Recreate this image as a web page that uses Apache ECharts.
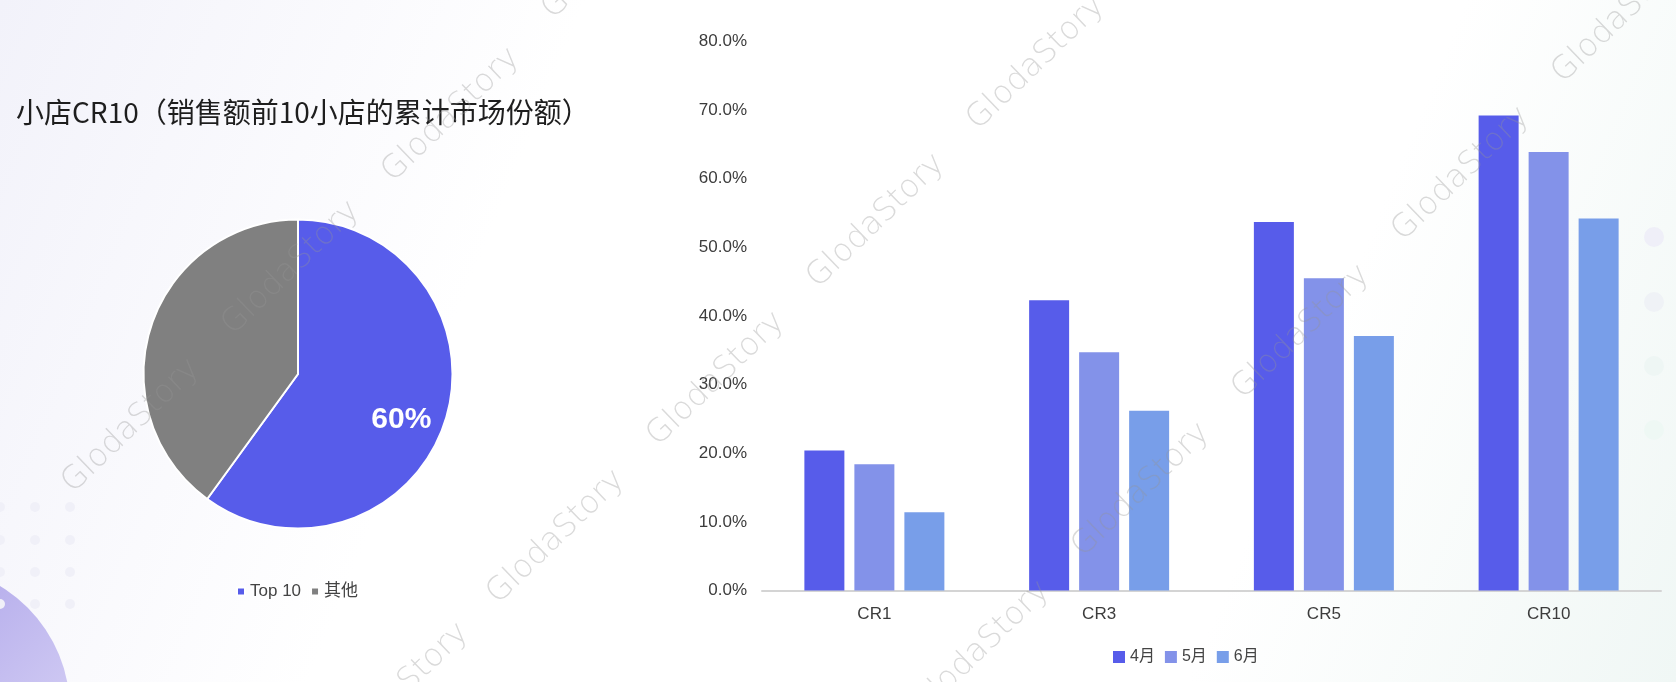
<!DOCTYPE html>
<html><head><meta charset="utf-8">
<script src="https://cdn.jsdelivr.net/npm/echarts@6/dist/echarts.min.js"></script>
<style>html,body{margin:0;padding:0;background:#fff;} #c{width:1676px;height:682px;}</style>
</head><body><div id="c"></div>
<script>
// ---- data ----
const title = '小店CR10（销售额前10小店的累计市场份额）';
const categories = ['CR1', 'CR3', 'CR5', 'CR10'];
const months = ['4月', '5月', '6月'];
const apr = [20.4, 42.3, 53.7, 69.2];
const may = [18.4, 34.7, 45.5, 63.9];
const jun = [11.4, 26.2, 37.1, 54.2];
const pieNames = ['Top 10', '其他'];
const pieValues = [60, 40];
const yMin = 0, yMax = 80, yStep = 10;
const watermarkText = 'GlodaStory';

// ---- style ----
const barColors = ['#575CEA', '#8392E9', '#789EE9'];
const pieColors = ['#575CEA', '#808080'];
const FONT = '"Liberation Sans", Arial, "Noto Sans CJK SC", sans-serif';

const chart = echarts.init(document.getElementById('c'), null, {renderer: 'canvas'});

// decorations
const deco = [];
deco.push({type: 'circle', z: 0, shape: {cx: -75, cy: 710, r: 145},
  style: {fill: new echarts.graphic.LinearGradient(0, 0, 1, 1, [
    {offset: 0, color: '#9d92e5'}, {offset: 1, color: '#e2def8'}])}});
[0, 35, 70].forEach(x => [507, 540, 572, 604].forEach(y => {
  deco.push({type: 'circle', z: 0, shape: {cx: x, cy: y, r: 5}, style: {fill: '#f0f0f8'}});
}));
[['#efeff8', 237], ['#eff2f6', 302], ['#eef6f4', 366], ['#eef8f4', 430]].forEach(([c, y]) => {
  deco.push({type: 'circle', z: 0, shape: {cx: 1654, cy: y, r: 10}, style: {fill: c}});
});
const wmPos = [
  [611, -48], [451, 115], [291, 268], [131, 426],
  [1036, 63], [876, 221], [716, 379], [556, 537], [400, 690],
  [1621, 16], [1461, 174], [1301, 332], [1141, 490], [981, 648]
];
wmPos.forEach(([x, y]) => {
  deco.push({type: 'text', z: 100, x: x, y: y, rotation: 44 * Math.PI / 180, silent: true,
    style: {text: watermarkText, fill: 'rgba(150,150,150,0.35)', font: '300 32px "DejaVu Sans", sans-serif',
      align: 'center', verticalAlign: 'middle'}});
});

const option = {
  backgroundColor: new echarts.graphic.LinearGradient(0, 0, 1, 1, [
    {offset: 0, color: '#f2f2fa'}, {offset: 0.3, color: '#ffffff'},
    {offset: 0.75, color: '#ffffff'}, {offset: 1, color: '#f0f7f5'}]),
  animation: false,
  title: {
    text: title, left: 11, top: 91,
    textStyle: {fontSize: 28, fontWeight: 'normal', color: '#1e1e1e', lineHeight: 32,
      fontFamily: '"Noto Sans CJK SC", sans-serif'}
  },
  legend: [
    {data: pieNames, left: 231, top: 578, icon: 'rect', itemWidth: 8, itemHeight: 8, itemGap: 9,
      textStyle: {fontSize: 17, color: '#444', fontFamily: FONT}},
    {data: months, left: 1108, top: 644, icon: 'rect', itemWidth: 12, itemHeight: 12, itemGap: 10,
      textStyle: {fontSize: 16, color: '#444', fontFamily: FONT}}
  ],
  grid: {left: 762, right: 15, top: 41.5, bottom: 91.5, containLabel: false},
  xAxis: {
    type: 'category', data: categories,
    axisLine: {lineStyle: {color: '#d4d4d4', width: 2}},
    axisTick: {show: false},
    axisLabel: {fontSize: 17, color: '#3c3c3c', margin: 15, fontFamily: FONT}
  },
  yAxis: {
    type: 'value', min: yMin, max: yMax, interval: yStep,
    axisLine: {show: false}, axisTick: {show: false}, splitLine: {show: false},
    axisLabel: {fontSize: 17, color: '#3c3c3c', margin: 15, fontFamily: FONT,
      formatter: v => v.toFixed(1) + '%'}
  },
  series: [
    {name: months[0], type: 'bar', data: apr, barWidth: 40, barGap: '25%', itemStyle: {color: barColors[0]}},
    {name: months[1], type: 'bar', data: may, barWidth: 40, barGap: '25%', itemStyle: {color: barColors[1]}},
    {name: months[2], type: 'bar', data: jun, barWidth: 40, barGap: '25%', itemStyle: {color: barColors[2]}},
    {
      type: 'pie', center: [298, 374], radius: [0, 154.5], startAngle: 90, clockwise: true,
      itemStyle: {borderColor: '#ffffff', borderWidth: 2},
      labelLine: {show: false},
      label: {show: false},
      labelLayout: {dx: 27, dy: 21},
      emphasis: {disabled: true},
      data: pieNames.map((n, i) => ({
        name: n, value: pieValues[i], itemStyle: {color: pieColors[i]},
        label: i === 0 ? {show: true, position: 'inside', formatter: '{d}%', color: '#fff',
          fontSize: 30, fontWeight: 'bold', fontFamily: FONT} : {show: false}
      }))
    }
  ],
  graphic: {elements: deco}
};
chart.setOption(option);
</script></body></html>
